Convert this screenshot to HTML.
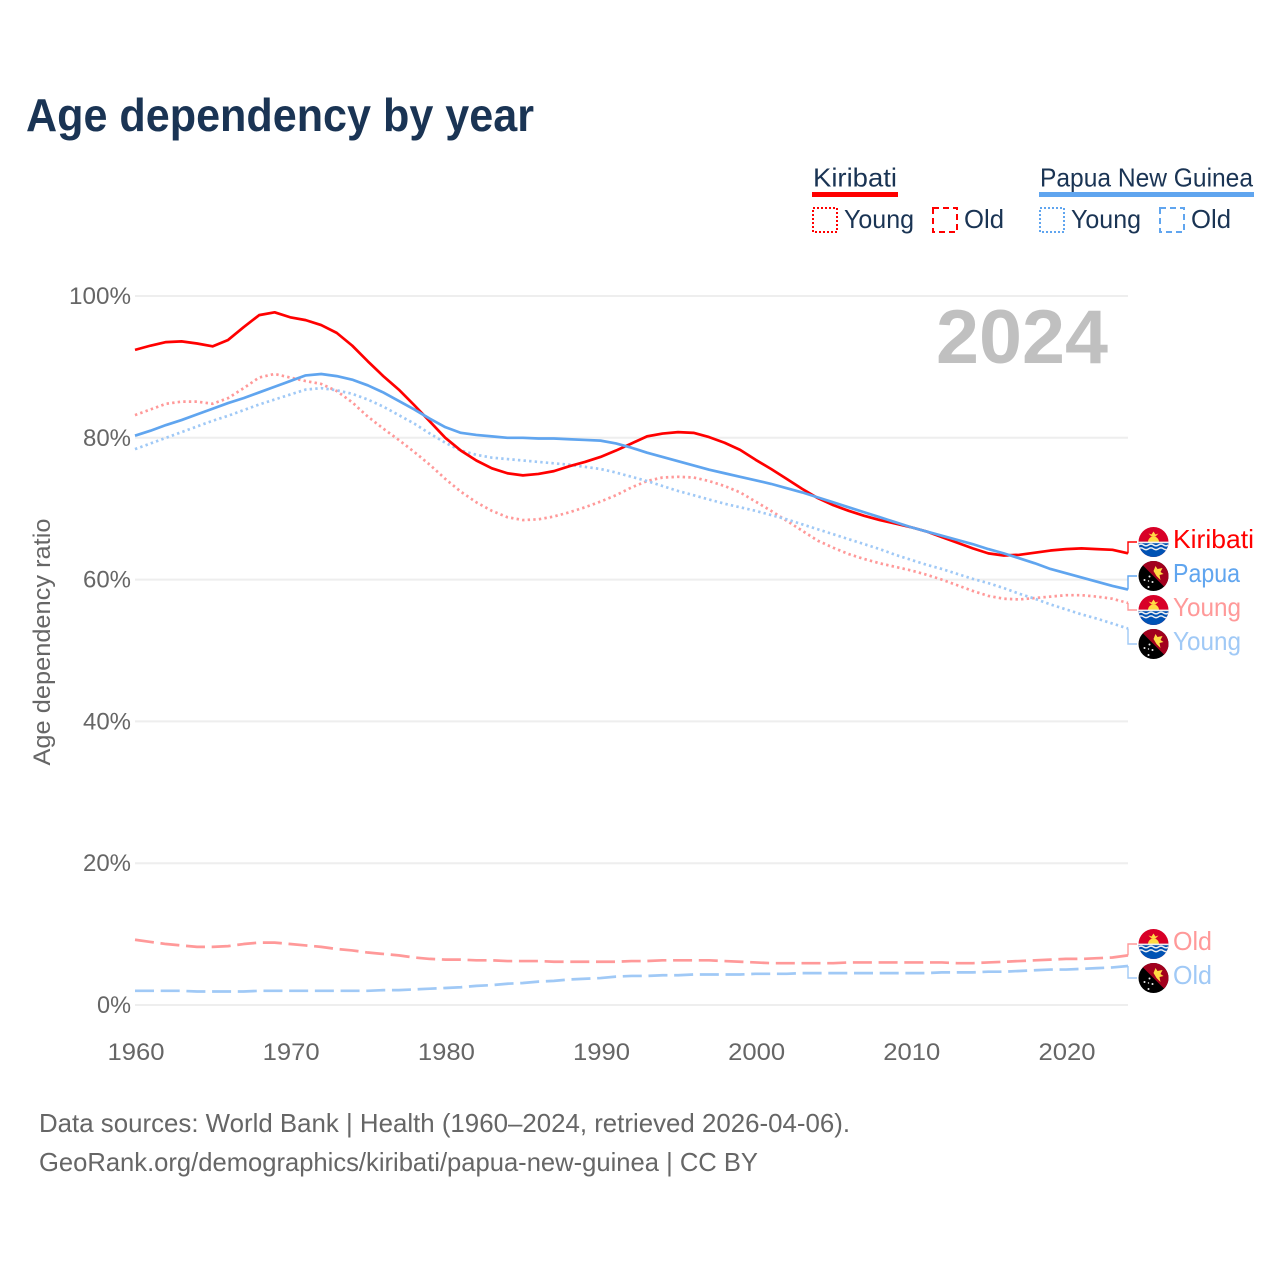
<!DOCTYPE html>
<html lang="en">
<head>
<meta charset="utf-8">
<title>Age dependency by year</title>
<style>
html,body{margin:0;padding:0;background:#fff;}
svg{display:block;}
text{font-family:"Liberation Sans",sans-serif;}
</style>
</head>
<body>
<svg id="chart" width="1280" height="1280" viewBox="0 0 1280 1280" xmlns="http://www.w3.org/2000/svg">
<defs>
<clipPath id="flag-clip"><circle cx="0" cy="0" r="15"/></clipPath>
<g id="flag-ki">
<g clip-path="url(#flag-clip)">
<rect x="-15" y="-15" width="30" height="30" fill="#d80027"/>
<rect x="-15" y="0" width="30" height="15" fill="#0052b4"/>
<path d="M-5.5,0 A5.5,5.5 0 0 1 5.5,0 Z" fill="#ffda44"/>
<path d="M-5,-8.5 L-2,-7.5 L0,-10.5 L2,-7.5 L5,-8.5 L2,-5.5 L-2,-5.5 Z" fill="#ffda44"/>
<rect x="-15" y="-0.4" width="30" height="1.6" fill="#f0f0f0"/>
<path d="M-15,3 q2.5,-1.8 5,0 t5,0 t5,0 t5,0 t5,0 t5,0" fill="none" stroke="#f0f0f0" stroke-width="1.5"/>
<path d="M-15,6.8 q2.5,-1.8 5,0 t5,0 t5,0 t5,0 t5,0 t5,0" fill="none" stroke="#f0f0f0" stroke-width="1.5"/>
</g>
</g>
<g id="flag-pg">
<g clip-path="url(#flag-clip)">
<rect x="-15" y="-15" width="30" height="30" fill="#000"/>
<path d="M-15,-15 L15,-15 L15,15 Z" fill="#a2001d"/>
<path d="M0,-5 L2,-10 L4,-7 L9,-8 L7,-4 L10,-2 L6,-1 L7,4 L3,0 Z" fill="#ffda44"/>
<circle cx="-4" cy="0.5" r="1" fill="#eee"/>
<circle cx="-9" cy="4" r="1" fill="#eee"/>
<circle cx="-1" cy="6" r="1" fill="#eee"/>
<circle cx="-5" cy="5" r="0.7" fill="#eee"/>
<circle cx="-5" cy="11" r="1" fill="#eee"/>
</g>
</g>
</defs>

<text x="26" y="131" font-size="46" font-weight="700" fill="#1a3454" textLength="508" lengthAdjust="spacingAndGlyphs">Age dependency by year</text>

<g>
<text x="813" y="186.5" font-size="26" fill="#1a3454" textLength="84" lengthAdjust="spacingAndGlyphs">Kiribati</text>
<rect x="812" y="192" width="86" height="5" fill="#ff0000"/>
<rect x="813" y="208" width="24" height="24" fill="none" stroke="#ff0000" stroke-width="2" stroke-dasharray="2 2"/>
<text x="844" y="228" font-size="26" fill="#1a3454" textLength="70" lengthAdjust="spacingAndGlyphs">Young</text>
<rect x="933" y="208" width="24" height="24" fill="none" stroke="#ff0000" stroke-width="2" stroke-dasharray="6 4"/>
<text x="964" y="228" font-size="26" fill="#1a3454" textLength="40" lengthAdjust="spacingAndGlyphs">Old</text>
<text x="1040" y="186.5" font-size="26" fill="#1a3454" textLength="213" lengthAdjust="spacingAndGlyphs">Papua New Guinea</text>
<rect x="1039" y="192" width="215" height="5" fill="#60a5ef"/>
<rect x="1040" y="208" width="24" height="24" fill="none" stroke="#60a5ef" stroke-width="2" stroke-dasharray="2 2"/>
<text x="1071" y="228" font-size="26" fill="#1a3454" textLength="70" lengthAdjust="spacingAndGlyphs">Young</text>
<rect x="1160" y="208" width="24" height="24" fill="none" stroke="#60a5ef" stroke-width="2" stroke-dasharray="6 4"/>
<text x="1191" y="228" font-size="26" fill="#1a3454" textLength="40" lengthAdjust="spacingAndGlyphs">Old</text>
</g>

<g id="grid"></g>
<text x="936" y="363" font-size="76" font-weight="700" fill="#c0c0c0" textLength="172" lengthAdjust="spacingAndGlyphs">2024</text>
<g id="y-ticks"></g>
<g id="x-ticks"></g>
<text transform="translate(50,642) rotate(-90)" text-anchor="middle" font-size="24" fill="#666" textLength="247" lengthAdjust="spacingAndGlyphs">Age dependency ratio</text>
<g id="series"></g>
<g id="end-labels"></g>

<g>
<text x="39" y="1132" font-size="26" fill="#666" textLength="811" lengthAdjust="spacingAndGlyphs">Data sources: World Bank | Health (1960–2024, retrieved 2026-04-06).</text>
<text x="39" y="1171" font-size="26" fill="#666" textLength="719" lengthAdjust="spacingAndGlyphs">GeoRank.org/demographics/kiribati/papua-new-guinea | CC BY</text>
</g>
</svg>

<script>
const startYear = 1960;
const xTickLabels = [1960, 1970, 1980, 1990, 2000, 2010, 2020];
const yTickLabels = [0, 20, 40, 60, 80, 100];

const kiribatiTotal = [
  92.4, 93.0, 93.5, 93.6, 93.3, 92.9, 93.8, 95.6, 97.3, 97.7,
  97.0, 96.6, 95.9, 94.8, 93.0, 90.8, 88.7, 86.8, 84.6, 82.3,
  80.0, 78.2, 76.8, 75.7, 75.0, 74.7, 74.9, 75.3, 76.0, 76.6,
  77.3, 78.2, 79.2, 80.2, 80.6, 80.8, 80.7, 80.1, 79.3, 78.3,
  76.9, 75.6, 74.2, 72.8, 71.5, 70.5, 69.7, 69.0, 68.4, 67.9,
  67.4, 66.8, 66.0, 65.2, 64.4, 63.7, 63.4, 63.5, 63.8, 64.1,
  64.3, 64.4, 64.3, 64.2, 63.7
];
const papuaTotal = [
  80.3, 81.0, 81.8, 82.5, 83.3, 84.1, 84.9, 85.6, 86.4, 87.2,
  88.0, 88.8, 89.0, 88.7, 88.2, 87.4, 86.4, 85.2, 84.0, 82.7,
  81.5, 80.7, 80.4, 80.2, 80.0, 80.0, 79.9, 79.9, 79.8, 79.7,
  79.6, 79.2, 78.6, 77.9, 77.3, 76.7, 76.1, 75.5, 75.0, 74.5,
  74.0, 73.5, 72.9, 72.3, 71.6, 70.9, 70.2, 69.5, 68.8, 68.1,
  67.4, 66.8, 66.2, 65.6, 65.0, 64.3, 63.7, 63.0, 62.3, 61.5,
  60.9, 60.3, 59.7, 59.1, 58.6
];
const kiribatiYoung = [
  83.2, 84.0, 84.8, 85.1, 85.1, 84.8, 85.6, 87.0, 88.5, 89.0,
  88.5, 88.0, 87.6, 86.6, 85.0, 83.0, 81.3, 79.7, 78.0, 76.2,
  74.2, 72.4, 70.9, 69.7, 68.8, 68.4, 68.5, 68.9, 69.5, 70.2,
  71.0, 71.9, 73.0, 73.9, 74.4, 74.5, 74.4, 73.9, 73.2, 72.3,
  71.0, 69.7, 68.3, 66.9, 65.5, 64.5, 63.6, 62.9, 62.3, 61.8,
  61.3, 60.7, 60.0, 59.2, 58.4, 57.7, 57.3, 57.2, 57.4, 57.6,
  57.8, 57.8, 57.6, 57.3, 56.7
];
const papuaYoung = [
  78.4, 79.2, 80.0, 80.8, 81.6, 82.4, 83.1, 83.9, 84.7, 85.4,
  86.1, 86.8, 87.0, 86.7, 86.2, 85.4, 84.4, 83.2, 82.0, 80.6,
  79.3, 78.2, 77.6, 77.2, 77.0, 76.8, 76.6, 76.4, 76.2, 75.9,
  75.6, 75.1, 74.5, 73.9, 73.2, 72.5, 71.9, 71.3, 70.7, 70.2,
  69.7, 69.1, 68.5, 67.8, 67.1, 66.4, 65.7, 65.0, 64.3, 63.5,
  62.8, 62.1, 61.5, 60.8, 60.1, 59.5, 58.8, 58.0, 57.3, 56.5,
  55.8, 55.1, 54.5, 53.8, 53.1
];
const kiribatiOld = [
  9.2, 8.9, 8.6, 8.4, 8.2, 8.2, 8.3, 8.6, 8.8, 8.8,
  8.6, 8.4, 8.2, 7.9, 7.7, 7.4, 7.2, 7.0, 6.7, 6.5,
  6.4, 6.4, 6.3, 6.3, 6.2, 6.2, 6.2, 6.1, 6.1, 6.1,
  6.1, 6.1, 6.2, 6.2, 6.3, 6.3, 6.3, 6.3, 6.2, 6.1,
  6.0, 5.9, 5.9, 5.9, 5.9, 5.9, 6.0, 6.0, 6.0, 6.0,
  6.0, 6.0, 6.0, 5.9, 5.9, 6.0, 6.1, 6.2, 6.3, 6.4,
  6.5, 6.5, 6.6, 6.7, 7.0
];
const papuaOld = [
  2.0, 2.0, 2.0, 2.0, 1.9, 1.9, 1.9, 1.9, 2.0, 2.0,
  2.0, 2.0, 2.0, 2.0, 2.0, 2.0, 2.1, 2.1, 2.2, 2.3,
  2.4, 2.5, 2.7, 2.8, 3.0, 3.1, 3.3, 3.4, 3.6, 3.7,
  3.8, 4.0, 4.1, 4.1, 4.2, 4.2, 4.3, 4.3, 4.3, 4.3,
  4.4, 4.4, 4.4, 4.5, 4.5, 4.5, 4.5, 4.5, 4.5, 4.5,
  4.5, 4.5, 4.6, 4.6, 4.6, 4.7, 4.7, 4.8, 4.9, 5.0,
  5.0, 5.1, 5.2, 5.3, 5.5
];

const NS = 'http://www.w3.org/2000/svg';
function xScale(year) { return 135 + (year - 1960) * (1128 - 135) / 64; }
function yScale(v) { return 1005 - v * 7.09; }

function svgEl(tag, attrs, parent) {
  const el = document.createElementNS(NS, tag);
  Object.keys(attrs).forEach(function (k) { el.setAttribute(k, attrs[k]); });
  parent.appendChild(el);
  return el;
}

const gridG = document.getElementById('grid');
const yTickG = document.getElementById('y-ticks');
yTickLabels.forEach(function (t) {
  const line = svgEl('line', { x1: 135, x2: 1128, y1: yScale(t), y2: yScale(t), stroke: '#eeeeee', 'stroke-width': 2 }, gridG);
  
  
  const label = svgEl('text', { x: 131, y: yScale(t) + 8, 'text-anchor': 'end', 'font-size': 24, fill: '#666' }, yTickG);
  
  
  label.setAttribute('textLength', String(t) === '100' ? 62 : (t === 0 ? 34 : 48));
  label.setAttribute('lengthAdjust', 'spacingAndGlyphs');
  label.textContent = t + '%';
});

const xTickG = document.getElementById('x-ticks');
xTickLabels.forEach(function (t) {
  const label = svgEl('text', { x: xScale(t) + 1, y: 1060, 'text-anchor': 'middle', 'font-size': 24, fill: '#666' }, xTickG);
  
  
  label.setAttribute('textLength', 57);
  label.setAttribute('lengthAdjust', 'spacingAndGlyphs');
  label.textContent = t;
});

const RED = '#ff0000', BLUE = '#60a5ef', PINK = '#ff9999', SKY = '#a0c9f6';
const DOT = '2.4 3.2', DASH = '19 6.7';

/* Draw order: Kiribati beneath Papua New Guinea, as in the source */
const seriesList = [
  { key: 'kiribati-old', values: kiribatiOld, color: PINK, dash: DASH, flag: 'flag-ki', text: 'Old', textLen: 39, rowY: 944 },
  { key: 'papua-old', values: papuaOld, color: SKY, dash: DASH, flag: 'flag-pg', text: 'Old', textLen: 39, rowY: 978 },
  { key: 'kiribati-young', values: kiribatiYoung, color: PINK, dash: DOT, flag: 'flag-ki', text: 'Young', textLen: 68, rowY: 610 },
  { key: 'papua-young', values: papuaYoung, color: SKY, dash: DOT, flag: 'flag-pg', text: 'Young', textLen: 68, rowY: 644 },
  { key: 'kiribati-total', values: kiribatiTotal, color: RED, dash: '', flag: 'flag-ki', text: 'Kiribati', textLen: 81, rowY: 542 },
  { key: 'papua-total', values: papuaTotal, color: BLUE, dash: '', flag: 'flag-pg', text: 'Papua', textLen: 67, rowY: 576 }
];

const seriesG = document.getElementById('series');
const endG = document.getElementById('end-labels');
seriesList.forEach(function (s) {
  const pts = s.values.map(function (v, i) {
    return xScale(startYear + i).toFixed(2) + ',' + yScale(v).toFixed(2);
  }).join(' ');
  const line = svgEl('polyline', { points: pts, fill: 'none', stroke: s.color, 'stroke-width': 2.7, 'stroke-linejoin': 'round' }, seriesG);
  if (s.dash) line.setAttribute('stroke-dasharray', s.dash);
  
  

  const lastY = yScale(s.values[s.values.length - 1]);
  const connector = svgEl('polyline', {
    points: '1128,' + lastY.toFixed(2) + ' 1128,' + s.rowY + ' 1137,' + s.rowY,
    fill: 'none', stroke: s.color, 'stroke-width': 1.4
  }, endG);
  
  

  const flag = svgEl('use', { href: '#' + s.flag, transform: 'translate(1153.5,' + s.rowY + ')' }, endG);
  
  

  const label = svgEl('text', { x: 1173, y: s.rowY + 6, 'font-size': 26, fill: s.color }, endG);
  
  
  label.setAttribute('textLength', s.textLen);
  label.setAttribute('lengthAdjust', 'spacingAndGlyphs');
  label.textContent = s.text;
});
</script>
</body>
</html>
